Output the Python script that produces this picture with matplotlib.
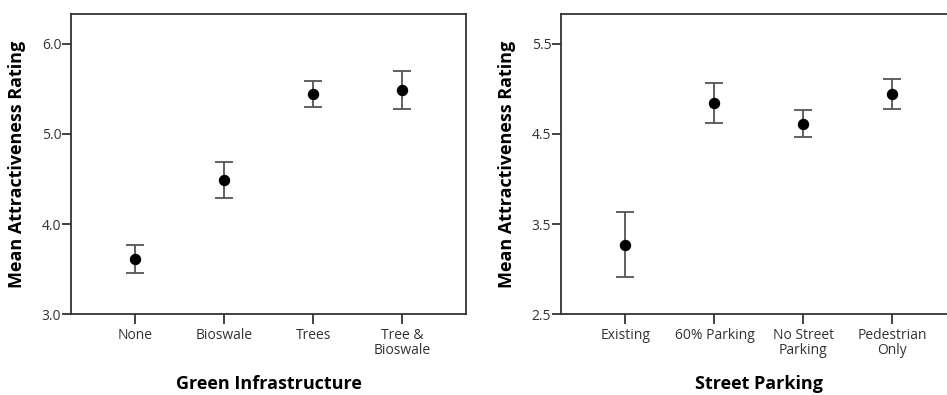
import matplotlib
matplotlib.use("Agg")
import matplotlib.pyplot as plt

plt.rcParams['font.family'] = ['Open Sans', 'DejaVu Sans']

# Left panel: Green Infrastructure
gi_categories = ["None", "Bioswale", "Trees", "Tree &\nBioswale"]
gi_means = [3.61, 4.49, 5.44, 5.49]
gi_lower = [3.46, 4.29, 5.30, 5.28]
gi_upper = [3.77, 4.69, 5.59, 5.70]
gi_yticks = [3.0, 4.0, 5.0, 6.0]
gi_yticklabels = ["3.0", "4.0", "5.0", "6.0"]

# Right panel: Street Parking
sp_categories = ["Existing", "60% Parking", "No Street\nParking", "Pedestrian\nOnly"]
sp_means = [3.27, 4.84, 4.61, 4.94]
sp_lower = [2.91, 4.62, 4.47, 4.78]
sp_upper = [3.63, 5.07, 4.76, 5.11]
sp_yticks = [2.5, 3.5, 4.5, 5.5]
sp_yticklabels = ["2.5", "3.5", "4.5", "5.5"]

fig = plt.figure(figsize=(9.47, 3.95), dpi=100)
W, H = 947, 395

def make_ax(left_px, right_px, top_px, bottom_px):
    return fig.add_axes([left_px / W, (H - bottom_px) / H,
                         (right_px - left_px) / W, (bottom_px - top_px) / H])

ax1 = make_ax(71, 466, 14, 314.3)
ax2 = make_ax(561, 956, 14, 314.3)

spine_col = "#333333"
err_col = "#555555"
text_col = "#333333"

def draw(ax, cats, means, lo, hi, yticks, yticklabels, ylim, xlabel):
    x = list(range(len(cats)))
    yerr = [[m - l for m, l in zip(means, lo)], [h - m for m, h in zip(means, hi)]]
    ax.errorbar(x, means, yerr=yerr, fmt='none', ecolor=err_col, elinewidth=1.3,
                capsize=6.5, capthick=1.3, zorder=2)
    ax.plot(x, means, 'o', color='black', markersize=7.2, zorder=3)
    ax.set_xlim(-0.725, 3.715)
    ax.set_ylim(*ylim)
    ax.set_xticks(x)
    ax.set_xticklabels(cats, fontsize=10, color=text_col, linespacing=1.0)
    ax.set_yticks(yticks)
    ax.set_yticklabels(yticklabels, fontsize=10, color=text_col)
    ax.tick_params(axis='x', length=7, width=1.3, color=spine_col, pad=3)
    ax.tick_params(axis='y', length=6.5, width=1.3, color=spine_col, pad=0.5)
    for s in ax.spines.values():
        s.set_color(spine_col)
        s.set_linewidth(1.3)
    ax.set_ylabel("Mean Attractiveness Rating", fontsize=13, fontweight='bold',
                  color='black')
    ax.set_xlabel(xlabel, fontsize=13, fontweight='bold', color='black')
    ax.yaxis.set_label_coords(-0.114, 0.5)
    ax.xaxis.set_label_coords(0.5, -0.203)

draw(ax1, gi_categories, gi_means, gi_lower, gi_upper, gi_yticks, gi_yticklabels,
     (3.0, 6.33), "Green Infrastructure")
draw(ax2, sp_categories, sp_means, sp_lower, sp_upper, sp_yticks, sp_yticklabels,
     (2.5, 5.83), "Street Parking")

fig.savefig("out.png", dpi=100)
